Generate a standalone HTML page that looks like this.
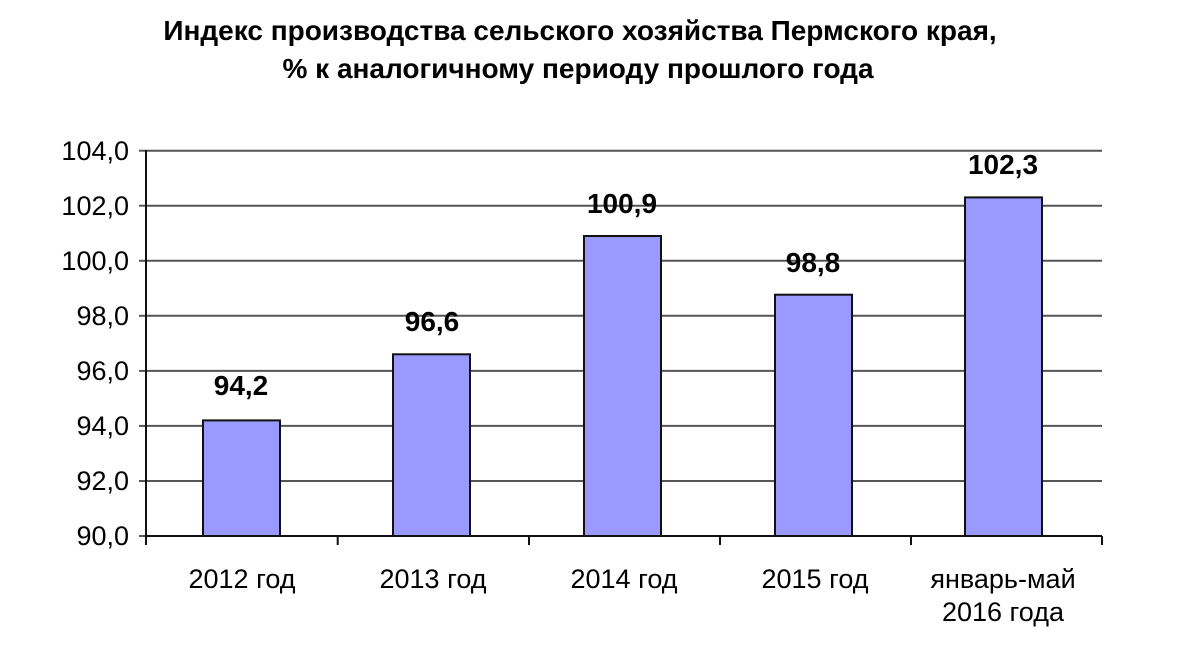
<!DOCTYPE html>
<html><head><meta charset="utf-8"><style>body{margin:0;background:#fff}</style></head><body>
<svg width="1182" height="645" xmlns="http://www.w3.org/2000/svg" font-family="Liberation Sans, Arial, sans-serif">
<rect width="1182" height="645" fill="#fff"/>
<text x="580" y="40" text-anchor="middle" font-size="28" font-weight="bold">Индекс производства сельского хозяйства Пермского края,</text>
<text x="578" y="78" text-anchor="middle" font-size="28" font-weight="bold">% к аналогичному периоду прошлого года</text>
<g stroke="#555" stroke-width="2">
<line x1="146" y1="150.7" x2="1102" y2="150.7"/>
<line x1="146" y1="205.7" x2="1102" y2="205.7"/>
<line x1="146" y1="260.8" x2="1102" y2="260.8"/>
<line x1="146" y1="315.8" x2="1102" y2="315.8"/>
<line x1="146" y1="370.9" x2="1102" y2="370.9"/>
<line x1="146" y1="425.9" x2="1102" y2="425.9"/>
<line x1="146" y1="481" x2="1102" y2="481"/>
</g>
<g stroke="#555" stroke-width="2">
<line x1="139" y1="150.7" x2="146" y2="150.7"/><line x1="139" y1="205.7" x2="146" y2="205.7"/><line x1="139" y1="260.8" x2="146" y2="260.8"/><line x1="139" y1="315.8" x2="146" y2="315.8"/><line x1="139" y1="370.9" x2="146" y2="370.9"/><line x1="139" y1="425.9" x2="146" y2="425.9"/><line x1="139" y1="481" x2="146" y2="481"/><line x1="139" y1="536" x2="146" y2="536"/>
</g>
<g fill="#9999ff" stroke="#111" stroke-width="2">
<rect x="203" y="420.4" width="77" height="115.6"/>
<rect x="393" y="354.3" width="77" height="181.7"/>
<rect x="584" y="236" width="77" height="300"/>
<rect x="775" y="294.7" width="77" height="241.3"/>
<rect x="965" y="197.4" width="77" height="338.6"/>
</g>
<g stroke="#111" stroke-width="2">
<line x1="146" y1="150" x2="146" y2="537"/>
<line x1="146" y1="536" x2="1102" y2="536"/>
<line x1="146" y1="536" x2="146" y2="545"/><line x1="337.7" y1="536" x2="337.7" y2="545"/><line x1="529" y1="536" x2="529" y2="545"/><line x1="720" y1="536" x2="720" y2="545"/><line x1="911" y1="536" x2="911" y2="545"/><line x1="1102" y1="536" x2="1102" y2="545"/>
</g>
<g font-size="27" text-anchor="end">
<text x="129" y="160">104,0</text><text x="129" y="215">102,0</text><text x="129" y="270">100,0</text><text x="129" y="325">98,0</text><text x="129" y="380">96,0</text><text x="129" y="435">94,0</text><text x="129" y="490">92,0</text><text x="129" y="545">90,0</text>
</g>
<g font-size="28" font-weight="bold" text-anchor="middle">
<text x="241" y="395">94,2</text><text x="432" y="331">96,6</text><text x="622" y="213">100,9</text><text x="813" y="272">98,8</text><text x="1003" y="174">102,3</text>
</g>
<g font-size="27" text-anchor="middle">
<text x="242" y="588">2012 год</text><text x="433" y="588">2013 год</text><text x="624" y="588">2014 год</text><text x="815" y="588">2015 год</text><text x="1003" y="588">январь-май</text><text x="1003" y="621">2016 года</text>
</g>
</svg>
</body></html>
